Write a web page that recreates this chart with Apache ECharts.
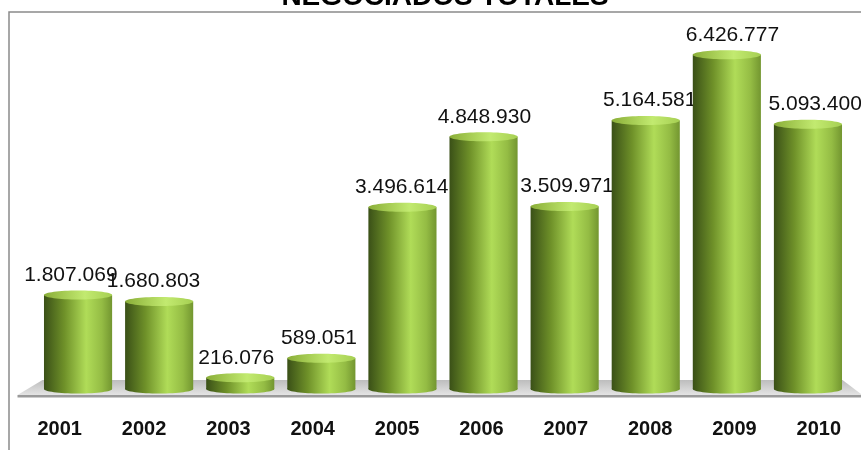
<!DOCTYPE html>
<html>
<head>
<meta charset="utf-8">
<script src="https://cdn.jsdelivr.net/npm/echarts@6/dist/echarts.min.js"></script>
<style>
  html, body { margin: 0; padding: 0; background: #fff; }
  #chart { width: 861px; height: 450px; }
</style>
</head>
<body>
<div id="chart"></div>
<script>
// datos
var years = ['2001', '2002', '2003', '2004', '2005', '2006', '2007', '2008', '2009', '2010'];
var totals = [1807069, 1680803, 216076, 589051, 3496614, 4848930, 3509971, 5164581, 6426777, 5093400];
var chartTitle = 'NEGOCIADOS TOTALES';

function fmt(v) {
    return String(v).replace(/\B(?=(\d{3})+(?!\d))/g, '.');
}

var chart = echarts.init(document.getElementById('chart'));

var bodyGrad = new echarts.graphic.LinearGradient(0, 0, 1, 0, [
    {offset: 0, color: '#3a5017'},
    {offset: 0.3, color: '#6f9129'},
    {offset: 0.62, color: '#b0dc58'},
    {offset: 0.85, color: '#94bc44'},
    {offset: 1, color: '#739630'}
]);
var topGrad = new echarts.graphic.LinearGradient(0, 0, 1, 0, [
    {offset: 0, color: '#8aae38'},
    {offset: 0.6, color: '#c2ea70'},
    {offset: 1, color: '#a6cf52'}
]);

function cylinder(params, api) {
    var i = api.value(0);
    var top = api.coord([i, api.value(1)]);
    var base = api.coord([i, 0]);
    var w = api.size([1, 0])[0] * 0.84;
    var rx = w / 2, ry = 4.5;
    var cx = top[0];
    return {
        type: 'group',
        children: [
            {type: 'ellipse', shape: {cx: cx, cy: base[1], rx: rx, ry: ry}, style: {fill: bodyGrad}},
            {type: 'rect', shape: {x: cx - rx, y: top[1], width: w, height: base[1] - top[1]}, style: {fill: bodyGrad}},
            {type: 'ellipse', shape: {cx: cx, cy: top[1], rx: rx, ry: ry}, style: {fill: topGrad}},
            {
                type: 'text',
                style: {
                    text: fmt(api.value(1)),
                    x: cx + (i - 4.5) * 1.6,
                    y: top[1] - ry - 5,
                    align: 'center',
                    verticalAlign: 'bottom',
                    fill: '#111',
                    font: '21px "Liberation Sans", Arial, sans-serif'
                }
            }
        ]
    };
}

function floor(params, api) {
    var cs = params.coordSys;
    var y0 = api.coord([0, 0])[1];
    var l = cs.x, r = cs.x + cs.width;
    return {
        type: 'group',
        children: [
            {
                type: 'polygon',
                shape: {points: [[l + 5, y0 - 9], [r - 6, y0 - 9], [r + 14, y0 + 6], [l - 20, y0 + 6]]},
                style: {
                    fill: new echarts.graphic.LinearGradient(0, 0, 0, 1, [
                        {offset: 0, color: '#bdbdbd'},
                        {offset: 1, color: '#e4e4e4'}
                    ])
                }
            },
            {type: 'rect', shape: {x: l - 20, y: y0 + 6, width: r - l + 40, height: 2.5}, style: {fill: '#9a9a9a'}}
        ]
    };
}

chart.setOption({
    animation: false,
    backgroundColor: '#fff',
    title: {
        text: chartTitle,
        left: 440,
        textAlign: 'center',
        top: -22,
        textStyle: {fontSize: 28, fontWeight: 'bold', color: '#000', fontFamily: '"Liberation Sans", Arial, sans-serif'}
    },
    graphic: [{
        type: 'rect',
        shape: {x: 9, y: 12, width: 900, height: 500},
        style: {fill: 'none', stroke: '#8a8a8a', lineWidth: 1.5},
        z: -10
    }],
    grid: [
        {left: 37.5, right: 12.5, top: 25, bottom: 61},
        {left: 17.5, right: -6.5, top: 25, bottom: 61}
    ],
    xAxis: [
        {type: 'category', data: years, gridIndex: 0, show: false},
        {
            type: 'category', data: years, gridIndex: 1,
            axisLine: {show: false}, axisTick: {show: false},
            axisLabel: {
                margin: 30, color: '#111', fontSize: 20, fontWeight: 'bold',
                fontFamily: '"Liberation Sans", Arial, sans-serif'
            }
        }
    ],
    yAxis: [
        {type: 'value', min: 0, max: 7000000, gridIndex: 0, show: false},
        {type: 'value', min: 0, max: 7000000, gridIndex: 1, show: false}
    ],
    series: [
        {
            type: 'custom', name: 'piso', xAxisIndex: 0, yAxisIndex: 0,
            data: [[0, 0]], renderItem: floor, z: 1, silent: true
        },
        {
            type: 'custom', name: 'Negociados', xAxisIndex: 0, yAxisIndex: 0,
            data: totals.map(function (v, i) { return [i, v]; }),
            renderItem: cylinder, z: 2
        }
    ]
});
</script>
</body>
</html>
